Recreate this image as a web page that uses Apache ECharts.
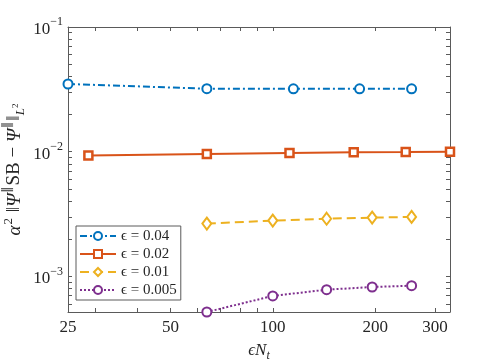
<!DOCTYPE html>
<html>
<head>
<meta charset="utf-8">
<script src="https://cdn.jsdelivr.net/npm/echarts@6/dist/echarts.min.js"></script>
<style>
html,body{margin:0;padding:0;background:#fff;}
#chart{width:498px;height:361px;}
</style>
</head>
<body>
<div id="chart"></div>
<script>
// ---- data ----
const seriesNames = ['ϵ = 0.04', 'ϵ = 0.02', 'ϵ = 0.01', 'ϵ = 0.005'];
const x004 = [25, 64, 115, 180, 256];
const y004 = [0.0349, 0.0320, 0.0319, 0.0319, 0.0319];
const x002 = [28.7, 64, 112, 173, 246, 332];
const y002 = [0.0093, 0.0096, 0.00976, 0.00989, 0.00994, 0.0100];
const x001 = [64, 100, 144, 196, 256];
const y001 = [0.00265, 0.0028, 0.0029, 0.00296, 0.0030];
const x0005 = [64, 100, 144, 196, 256];
const y0005 = [0.000518, 0.000697, 0.000782, 0.000822, 0.000842];

const xTickLabels = [25, 50, 100, 200, 300];
const xAllTicks = [25, 30, 40, 50, 60, 70, 80, 90, 100, 200, 300];
const yTickLabels = [0.001, 0.01, 0.1];
const xRange = [25, 332];
const yRange = [0.000518, 0.1];

// ---- helpers ----
const lg = Math.log10;
const yAllTicks = [];
[-4, -3, -2].forEach(e => { for (let k = 1; k <= 9; k++) yAllTicks.push(k * Math.pow(10, e)); });
yAllTicks.push(0.1);
const inRange = (v, r) => v >= r[0] * 0.9999 && v <= r[1] * 1.0001;

const colors = ['#0072BD', '#D95319', '#EDB120', '#7E2F8E'];
const serif = "'Liberation Serif', 'DejaVu Serif', serif";
const axisColor = '#5a5a5a';
const txt = '#262626';

function pairs(xs, ys) { return xs.map((x, i) => [x, ys[i]]); }

const xTickLog = xAllTicks.filter(v => inRange(v, xRange)).map(lg);
const yTickLog = yAllTicks.filter(v => inRange(v, yRange)).map(lg);

function xValueAxis(pos, labels) {
  return {
    type: 'value', position: pos, min: lg(xRange[0]), max: lg(xRange[1]),
    splitLine: {show: false},
    axisLine: {show: true, onZero: false, lineStyle: {color: axisColor, width: 1}},
    axisTick: {show: true, inside: true, length: 4, customValues: xTickLog, lineStyle: {color: axisColor}},
    axisLabel: {show: labels, customValues: xTickLabels.map(lg), margin: 7,
      formatter: v => String(Math.round(Math.pow(10, v))),
      fontFamily: serif, fontSize: 17, color: txt}
  };
}
function yValueAxis(pos, labels) {
  return {
    type: 'value', position: pos, min: lg(yRange[0]), max: lg(yRange[1]),
    splitLine: {show: false},
    axisLine: {show: true, onZero: false, lineStyle: {color: axisColor, width: 1}},
    axisTick: {show: true, inside: true, length: 4, customValues: yTickLog, lineStyle: {color: axisColor}},
    axisLabel: {show: labels, customValues: yTickLabels.map(lg), margin: 5,
      formatter: v => { const e = Math.round(v); return '{b|10}{s|' + (e < 0 ? '−' : '') + Math.abs(e) + '}'; },
      rich: {
        b: {fontFamily: serif, fontSize: 17, color: txt, lineHeight: 22, verticalAlign: 'bottom'},
        s: {fontFamily: serif, fontSize: 12, color: txt, verticalAlign: 'top'}
      }}
  };
}

const xValBottom = xValueAxis('bottom', true);
xValBottom.name = '{it|ϵN}{sub|t}';
xValBottom.nameLocation = 'middle';
xValBottom.nameGap = 30;
xValBottom.nameTextStyle = {
  rich: {
    it: {fontFamily: serif, fontStyle: 'italic', fontSize: 17, color: txt, lineHeight: 20, verticalAlign: 'top'},
    sub: {fontFamily: serif, fontStyle: 'italic', fontSize: 12, color: txt, verticalAlign: 'bottom'}
  }
};

const yValLeft = yValueAxis('left', true);
yValLeft.name = '{it|α}{sup|2}{n| ‖}{it|Ψ}{sup|∥}{n|SB − }{it|Ψ}{sup|∥}{n|‖}{sub|L}{sub2|2}';
yValLeft.nameLocation = 'middle';
yValLeft.nameGap = 41;
yValLeft.nameMoveOverlap = false;
yValLeft.nameTextStyle = {
  rich: {
    n: {fontFamily: serif, fontSize: 19, color: txt, lineHeight: 25, verticalAlign: 'middle'},
    it: {fontFamily: serif, fontStyle: 'italic', fontSize: 19, color: txt, lineHeight: 25, verticalAlign: 'middle'},
    sup: {fontFamily: serif, fontSize: 13, color: txt, verticalAlign: 'top', padding: [0, 1, 0, 1]},
    sub: {fontFamily: serif, fontStyle: 'italic', fontSize: 13, color: txt, verticalAlign: 'bottom'},
    sub2: {fontFamily: serif, fontSize: 9, color: txt, verticalAlign: 'bottom', padding: [0, 0, 7, 0]}
  }
};

const lineTypes = [[7, 3, 2, 3], 'solid', [9, 5], [2, 2]];
const symbols = ['circle', 'rect', 'diamond', 'circle'];
const symbolSizes = [9, 8, [9, 12], 9];
const dataSets = [pairs(x004, y004), pairs(x002, y002), pairs(x001, y001), pairs(x0005, y0005)];

const series = seriesNames.map((name, i) => ({
  name: name, type: 'line', xAxisIndex: 2, yAxisIndex: 2,
  data: dataSets[i], symbol: symbols[i], symbolSize: symbolSizes[i], showAllSymbol: true,
  clip: false, animation: false,
  lineStyle: {color: colors[i], width: 2, type: lineTypes[i]},
  itemStyle: {color: '#fff', borderColor: colors[i], borderWidth: i === 1 ? 2.5 : 2},
  emphasis: {disabled: true}
}));

const option = {
  animation: false,
  backgroundColor: '#fff',
  grid: {left: 68, top: 27, width: 382, height: 285, containLabel: false, outerBoundsMode: 'none'},
  xAxis: [
    xValBottom,
    xValueAxis('top', false),
    {type: 'log', logBase: 10, min: xRange[0], max: xRange[1], show: false}
  ],
  yAxis: [
    yValLeft,
    yValueAxis('right', false),
    {type: 'log', logBase: 10, min: yRange[0], max: yRange[1], show: false}
  ],
  legend: {
    data: seriesNames, orient: 'vertical', left: 76, top: 226,
    backgroundColor: '#fff', borderColor: '#5a5a5a', borderWidth: 1, borderRadius: 0,
    padding: [2, 4, 2, 3], itemWidth: 36, itemHeight: 10, itemGap: 2,
    selectedMode: false,
    textStyle: {fontFamily: serif, fontSize: 15, color: txt, lineHeight: 16}
  },
  series: series
};

const chart = echarts.init(document.getElementById('chart'), null, {renderer: 'canvas'});
chart.setOption(option);
</script>
</body>
</html>
